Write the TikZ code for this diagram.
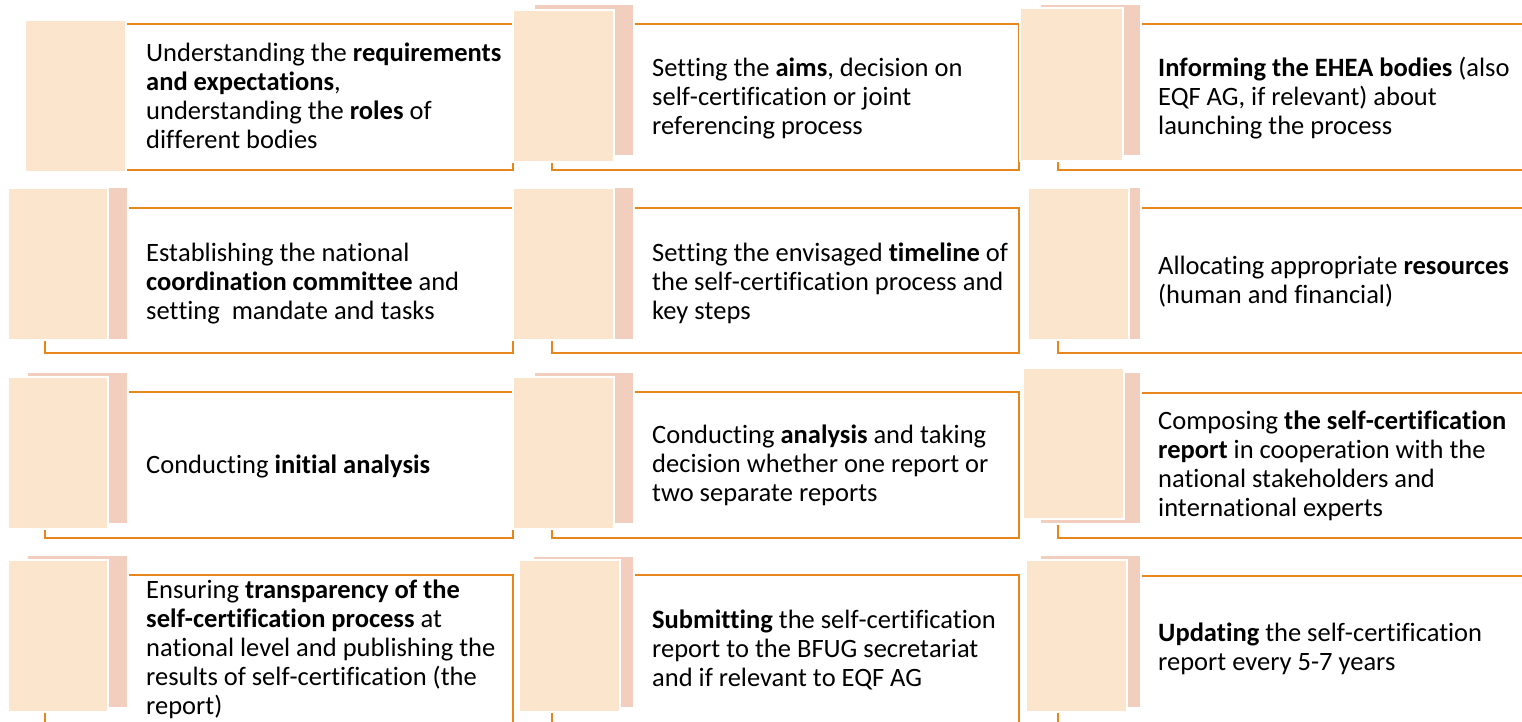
\documentclass[tikz,border=0pt]{standalone}
\usepackage{fontspec}
\setmainfont{Carlito}[Ligatures=NoCommon]
% keep the letters t and f from forming ligatures (ti, tt, ff, fi ...)
\newXeTeXintercharclass\ligbreakclass
\XeTeXcharclass`t=\ligbreakclass
\XeTeXcharclass`f=\ligbreakclass
\XeTeXinterchartoks\ligbreakclass 0={\kern0pt }
\XeTeXinterchartoks\ligbreakclass\ligbreakclass={\kern0pt }
\XeTeXinterchartokenstate=1
\definecolor{peach}{RGB}{251,230,205}
\definecolor{sheetpink}{RGB}{242,206,190}
\definecolor{lineorange}{RGB}{232,134,30}
\tikzset{
  frameline/.style={draw=lineorange, line width=2.7pt},
  cardtext/.style={anchor=north west, inner sep=0pt, align=left,
    font=\fontsize{26.5}{29}\selectfont, text=black},
}
\newcommand\cardframe[4]{\draw[frameline] (#1,#2) rectangle (#3,#4);}
\newcommand\cardsheet[4]{\fill[white] (#1-2,#2-2) rectangle (#3+2,#4+2);
  \fill[sheetpink] (#1,#2) rectangle (#3,#4);}
\newcommand\cardsquare[4]{\fill[white] (#1-2,#2-2) rectangle (#3+2,#4+2);
  \fill[peach] (#1,#2) rectangle (#3,#4);}
\newcommand\cardlabel[4]{\node[cardtext] (#1) at (#2,#3-20.3) {\strut #4};}
\begin{document}
\begin{tikzpicture}[x=1pt,y=-1pt]
\useasboundingbox (0,0) rectangle (1522,721);
\clip (0,0) rectangle (1522,721);
\fill[white] (0,0) rectangle (1522,721);
% ---------- row 1 ----------
\cardframe{45}{24}{513}{170}
\cardsquare{26}{21}{125}{171}
\cardlabel{t11}{146}{61}{Understanding the \textbf{requirements}\\ \textbf{and expectations},\\ understanding the \textbf{roles} of\\ different bodies}
\cardframe{552}{24}{1019}{170}
\cardsheet{535}{5}{633}{155}
\cardsquare{514}{11}{613}{161}
\cardlabel{t12}{652}{76}{Setting the \textbf{aims}, decision on\\ self-certification or joint\\ referencing process}
\cardframe{1058}{24}{1540}{170}
\cardsheet{1041}{5}{1140}{155}
\cardsquare{1021}{9}{1122}{160}
\cardlabel{t13}{1158}{76}{\textbf{Informing the EHEA bodies} (also\\ EQF AG, if relevant) about\\ launching the process}
% ---------- row 2 ----------
\cardframe{45}{208}{513}{353}
\cardsheet{28}{188}{127}{339}
\cardsquare{9}{189}{107}{339}
\cardlabel{t21}{146}{261}{Establishing the national\\ \textbf{coordination committee} and\\ setting\ \ mandate and tasks}
\cardframe{552}{208}{1019}{353}
\cardsheet{535}{188}{633}{339}
\cardsquare{514}{189}{613}{339}
\cardlabel{t22}{652}{261}{Setting the envisaged \textbf{timeline} of\\ the self-certification process and\\ key steps}
\cardframe{1058}{208}{1540}{353}
\cardsheet{1041}{188}{1140}{339}
\cardsquare{1029}{189}{1128}{339}
\cardlabel{t23}{1158}{274}{Allocating appropriate \textbf{resources}\\ (human and financial)}
% ---------- row 3 ----------
\cardframe{45}{392}{513}{538}
\cardsheet{28}{373}{127}{523}
\cardsquare{9}{378}{107}{528}
\cardlabel{t31}{146}{473}{Conducting \textbf{initial analysis}}
\cardframe{552}{392}{1019}{538}
\cardsheet{535}{373}{633}{523}
\cardsquare{514}{378}{613}{528}
\cardlabel{t32}{652}{443}{Conducting \textbf{analysis} and taking\\ decision whether one report or\\ two separate reports}
\cardframe{1058}{393}{1540}{538}
\cardsheet{1041}{373}{1140}{523}
\cardsquare{1024}{369}{1123}{518}
\cardlabel{t33}{1158}{429}{Composing \textbf{the self-certification}\\ \textbf{report} in cooperation with the\\ national stakeholders and\\ international experts}
% ---------- row 4 ----------
\cardframe{45}{575}{513}{740}
\cardsheet{28}{556}{127}{707}
\cardsquare{9}{561}{107}{711}
\cardlabel{t41}{146}{598}{Ensuring \textbf{transparency of the}\\ \textbf{self-certification process} at\\ national level and publishing the\\ results of self-certification (the\\ report)}
\cardframe{552}{575}{1019}{740}
\cardsheet{534}{557}{633}{707}
\cardsquare{520}{561}{619}{711}
\cardlabel{t42}{652}{628}{\textbf{Submitting} the self-certification\\ report to the BFUG secretariat\\ and if relevant to EQF AG}
\cardframe{1058}{576}{1540}{740}
\cardsheet{1041}{556}{1140}{707}
\cardsquare{1027}{561}{1126}{711}
\cardlabel{t43}{1158}{641}{\textbf{Updating} the self-certification\\ report every 5-7 years}
\end{tikzpicture}
\end{document}
